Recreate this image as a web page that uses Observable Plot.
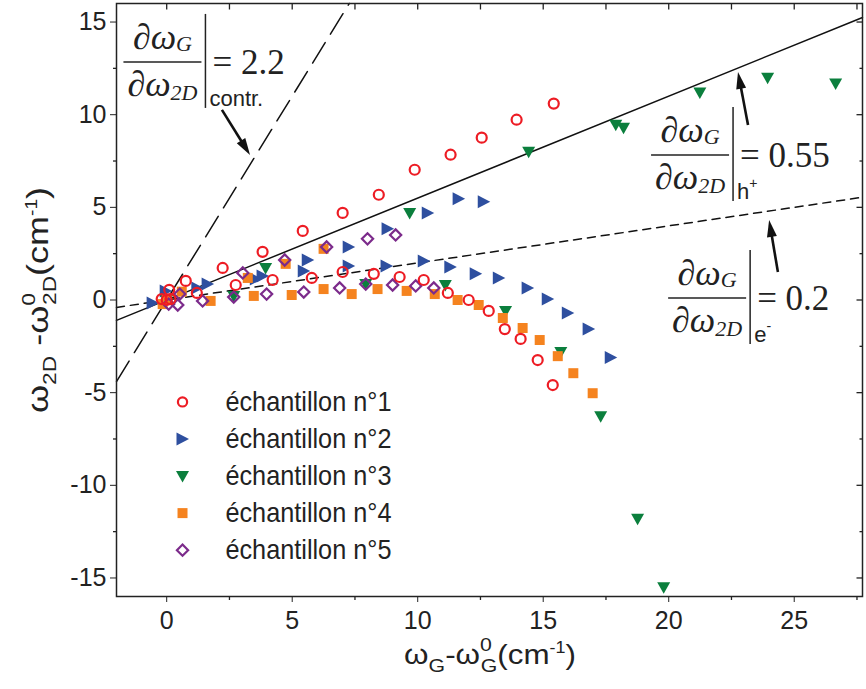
<!DOCTYPE html>
<html>
<head>
<meta charset="utf-8">
<script src="https://cdn.jsdelivr.net/npm/d3@7"></script>
<script src="https://cdn.jsdelivr.net/npm/@observablehq/plot@0.6"></script>
<style>
  html, body { margin: 0; padding: 0; background: white; }
</style>
</head>
<body>
<div id="chart"></div>
<script>
// ---------- data ----------
const serie1 = [ // échantillon n°1 (red open circles)
  [-0.2,0.05],[0,0],[0.15,0.05],[0.1,0.55],[0.76,1.03],[1.2,0.38],[2.23,1.73],[2.75,0.81],
  [3.82,2.6],[4.22,1.08],[5.42,3.73],[5.78,1.19],[7.01,4.7],[7.01,1.51],[8.45,5.68],[8.25,1.41],
  [9.28,1.24],[9.88,7.03],[10.24,1.08],[11.31,7.84],[11.2,0.38],[12.03,0.0],[12.55,8.76],
  [12.83,-0.59],[13.47,-1.57],[13.94,9.73],[14.1,-2.1],[14.78,-3.24],[15.38,-4.59],[15.42,10.6]
];
const serie2 = [ // échantillon n°2 (blue right triangles)
  [-0.56,-0.16],[-0.04,0.49],[1.22,0.65],[1.63,0.86],[3.55,1.13],[3.82,1.3],[5.62,2.16],
  [7.25,2.86],[8.8,3.84],[10.4,4.7],[11.63,5.46],[12.63,5.3],
  [5.46,1.57],[7.25,1.84],[8.76,1.84],[10.24,2.1],[11.3,1.78],[12.31,1.41],[13.23,1.19],
  [14.38,0.65],[15.18,0.05],[15.98,-0.7],[16.81,-1.57],[17.69,-3.1]
];
const serie3 = [ // échantillon n°3 (green down triangles)
  [0,0],[2.67,0.22],[3.94,1.73],[7.93,0.86],[9.68,4.7],[11.1,0.81],[13.5,-0.59],[14.42,8.0],
  [15.7,-2.81],[17.29,-6.27],[17.89,9.46],[18.2,9.3],[18.76,-11.8],[19.8,-15.5],
  [21.24,11.2],[23.94,12.0],[26.65,11.68]
];
const serie4 = [ // échantillon n°4 (orange squares)
  [-0.16,-0.22],[0,0],[0.6,0.45],[1.75,-0.05],[3.23,1.19],[3.47,0.22],[4.74,1.95],[4.98,0.27],
  [6.25,2.76],[6.25,0.59],[7.37,0.32],[8.4,0.59],[9.56,0.49],[10.68,0.32],[11.59,0.0],
  [12.43,-0.27],[13.39,-0.97],[14.18,-1.51],[14.86,-2.16],[15.58,-3.03],[16.2,-3.95],[16.97,-5.03]
];
const serie5 = [ // échantillon n°5 (purple open diamonds)
  [0.08,-0.22],[0.44,-0.27],[0.52,0.32],[1.43,-0.05],[2.67,0.16],[3.03,1.46],[3.98,0.32],
  [4.7,2.16],[5.46,0.43],[6.37,2.86],[6.89,0.65],[7.93,0.86],[8.0,3.3],[9.0,0.81],
  [9.12,3.51],[9.92,0.76],[10.64,0.65]
];

const legendLabels = ["échantillon n°1","échantillon n°2","échantillon n°3","échantillon n°4","échantillon n°5"];
const legendY = [-5.5,-7.5,-9.5,-11.5,-13.5];
const legendMarkX = 0.63;
const legendTextX = 2.34;

const guideSlopes = [2.2, 0.55, 0.2];
const guideDash = ["24,10", null, "8,6"];

const xDomain = [-2, 27.72];
const yDomain = [-16, 16];
const xTicks = [0,5,10,15,20,25];
const xMinor = [2.5,7.5,12.5,17.5,22.5,27.5];
const yTicks = [-15,-10,-5,0,5,10,15];
const yMinor = [-12.5,-7.5,-2.5,2.5,7.5,12.5];

// annotations (fraction-bar centre, in data units)
const formulas = [
  {x: -0.15, y: 12.82, value: "2.2",  label: "contr.", sup: ""},
  {x: 20.87, y: 7.8,   value: "0.55", label: "h",      sup: "+"},
  {x: 21.55, y: 0.08,  value: "0.2",  label: "e",      sup: "-"}
];
const arrows = [
  {x1: 2.22,  y1: 10.23, x2: 3.34,  y2: 7.8},
  {x1: 23.18, y1: 9.42,  x2: 22.78, y2: 12.28},
  {x1: 24.37, y1: 1.48,  x2: 24.02, y2: 4.29}
];

// ---------- styling ----------
const colors = ["#ed1c24", "#2e4f9f", "#0b7f3d", "#f5831f", "#7c2b8b"];
const INK = "#222";

const symTriRight = {draw(c){ c.moveTo(6.5,0); c.lineTo(-6,-6.5); c.lineTo(-6,6.5); c.closePath(); }};
const symTriDown  = {draw(c){ c.moveTo(-6.5,-5); c.lineTo(6.5,-5); c.lineTo(0,6.5); c.closePath(); }};
const symSquare   = {draw(c){ c.rect(-5,-5,10,10); }};
const symDiamond  = {draw(c){ c.moveTo(0,-5.6); c.lineTo(5.6,0); c.lineTo(0,5.6); c.lineTo(-5.6,0); c.closePath(); }};
const seg = (dx, dy) => ({draw(c){ c.moveTo(0,0); c.lineTo(dx,dy); }});

const seriesSpec = [
  {data: serie1, symbol: "circle",   r: 5, fill: "none",    stroke: colors[0], sw: 2.2},
  {data: serie2, symbol: symTriRight, r: 5, fill: colors[1], stroke: "none",   sw: 0},
  {data: serie3, symbol: symTriDown,  r: 5, fill: colors[2], stroke: "none",   sw: 0},
  {data: serie4, symbol: symSquare,   r: 5, fill: colors[3], stroke: "none",   sw: 0},
  {data: serie5, symbol: symDiamond,  r: 5, fill: "none",    stroke: colors[4], sw: 2.2}
];

function guideLine(s) {
  const x0 = Math.max(xDomain[0], yDomain[0] / s);
  const x1 = Math.min(xDomain[1], yDomain[1] / s);
  return [[x0, s * x0], [x1, s * x1]];
}

const marks = [];
guideSlopes.forEach((s, i) => {
  marks.push(Plot.line(guideLine(s), {x: d => d[0], y: d => d[1], stroke: "#111", strokeWidth: 1.5,
    strokeDasharray: guideDash[i] || undefined}));
});
[1,2,3,4,0].forEach(k => {
  const s = seriesSpec[k];
  marks.push(Plot.dot(s.data, {x: d => d[0], y: d => d[1], symbol: s.symbol, r: s.r,
    fill: s.fill, stroke: s.stroke, strokeWidth: s.sw}));
});
seriesSpec.forEach((s, i) => {
  marks.push(Plot.dot([legendY[i]], {x: () => legendMarkX, y: d => d, symbol: s.symbol, r: 4.6,
    fill: s.fill, stroke: s.stroke, strokeWidth: s.sw}));
});
marks.push(Plot.text(legendLabels, {x: () => legendTextX, y: (d, i) => legendY[i], text: d => d,
  textAnchor: "start", fontSize: 28, fill: INK}));
marks.push(Plot.frame({stroke: INK, strokeWidth: 1.5}));
marks.push(Plot.dot(xTicks.concat(xMinor), {x: d => d, y: () => yDomain[1], symbol: seg(0, 6), r: 3, fill: "none", stroke: INK, strokeWidth: 1.3}));
marks.push(Plot.dot(xMinor, {x: d => d, y: () => yDomain[0], symbol: seg(0, 3.5), r: 3, fill: "none", stroke: INK, strokeWidth: 1.3}));
marks.push(Plot.dot(yMinor, {x: () => xDomain[0], y: d => d, symbol: seg(-3.5, 0), r: 3, fill: "none", stroke: INK, strokeWidth: 1.3}));
marks.push(Plot.dot(yTicks, {x: () => xDomain[1], y: d => d, symbol: seg(-6, 0), r: 3, fill: "none", stroke: INK, strokeWidth: 1.3}));
marks.push(Plot.dot(yMinor, {x: () => xDomain[1], y: d => d, symbol: seg(-3, 0), r: 3, fill: "none", stroke: INK, strokeWidth: 1.3}));

const plot = Plot.plot({
  width: 866, height: 689,
  marginLeft: 116, marginRight: 4, marginTop: 3, marginBottom: 93,
  style: {fontFamily: "Liberation Sans, Arial, sans-serif", fontSize: "25px", color: INK, background: "white"},
  x: {domain: xDomain, ticks: xTicks, tickSize: 6, tickPadding: 9, tickFormat: d => String(d), label: null},
  y: {domain: yDomain, ticks: yTicks, tickSize: 6, tickPadding: 4, tickFormat: d => String(d), label: null},
  marks
});
document.getElementById("chart").appendChild(plot);

// ---------- annotations through the plot's own scales ----------
const sx = plot.scale("x"), sy = plot.scale("y");
const X = d3.scaleLinear(sx.domain, sx.range), Y = d3.scaleLinear(sy.domain, sy.range);
const svg = d3.select(plot);

// condense legend text like the reference
svg.selectAll("text").filter(function() { return this.textContent.startsWith("échantillon"); })
  .attr("textLength", 166).attr("lengthAdjust", "spacingAndGlyphs");

const g = svg.append("g").attr("fill", INK).attr("text-anchor", "start");

const SERIF = "Liberation Serif, Times New Roman, serif";
const SANS = "Liberation Sans, Arial, sans-serif";
formulas.forEach(f => {
  const cx = X(f.x), cy = Y(f.y);
  const num = g.append("text").attr("x", cx).attr("y", cy - 13).attr("text-anchor", "middle")
    .attr("font-family", SERIF).attr("font-style", "italic").attr("font-size", 36);
  num.append("tspan").text("∂ω");
  num.append("tspan").attr("font-size", 22).attr("dy", 2).text("G");
  g.append("line").attr("x1", cx - 39).attr("x2", cx + 39).attr("y1", cy).attr("y2", cy)
    .attr("stroke", INK).attr("stroke-width", 1.5);
  const den = g.append("text").attr("x", cx).attr("y", cy + 34).attr("text-anchor", "middle")
    .attr("font-family", SERIF).attr("font-style", "italic").attr("font-size", 36);
  den.append("tspan").text("∂ω");
  den.append("tspan").attr("font-size", 22).attr("dy", 4).text("2D");
  g.append("line").attr("x1", cx + 43).attr("x2", cx + 43).attr("y1", cy - 48).attr("y2", cy + 46)
    .attr("stroke", INK).attr("stroke-width", 1.5);
  g.append("text").attr("x", cx + 50).attr("y", cy + 12).attr("text-anchor", "start")
    .attr("font-family", SERIF).attr("font-size", 35).text("= " + f.value);
  const lab = g.append("text").attr("x", cx + 47).attr("y", cy + 44).attr("text-anchor", "start")
    .attr("font-family", SANS).attr("font-size", 22).text(f.label);
  if (f.sup) lab.append("tspan").attr("font-size", 14).attr("dy", -11).text(f.sup);
});

arrows.forEach(a => {
  const x1 = X(a.x1), y1 = Y(a.y1), x2 = X(a.x2), y2 = Y(a.y2);
  const dx = x2 - x1, dy = y2 - y1, L = Math.hypot(dx, dy), ux = dx / L, uy = dy / L;
  const hl = 17, hw = 5;
  const bx = x2 - ux * hl, by = y2 - uy * hl;
  g.append("line").attr("x1", x1).attr("y1", y1).attr("x2", bx + ux * 2).attr("y2", by + uy * 2)
    .attr("stroke", "#111").attr("stroke-width", 2.6);
  g.append("path").attr("d", `M${x2},${y2}L${bx - uy * hw},${by + ux * hw}L${bx + uy * hw},${by - ux * hw}Z`)
    .attr("fill", "#111");
});

// axis titles
function axisTitle(t, main, sub) {
  t.append("tspan").text("ω");
  t.append("tspan").attr("font-size", 19).attr("dy", 8).text(sub);
  t.append("tspan").attr("dy", -8).text(main === "y" ? " -ω" : "-ω");
  t.append("tspan").attr("font-size", 19).attr("dy", -13).text("0");
  t.append("tspan").attr("font-size", 19).attr("dx", -10).attr("dy", 21).text(sub);
  t.append("tspan").attr("dy", -8).text("(cm");
  t.append("tspan").attr("font-size", 16).attr("dy", -11).text("-1");
  t.append("tspan").attr("dy", 11).text(")");
}
const xt = g.append("text").attr("transform", "translate(490,664) scale(1.12,1)").attr("text-anchor", "middle")
  .attr("font-family", SANS).attr("font-size", 28);
axisTitle(xt, "x", "G");
const yt = g.append("text").attr("transform", "translate(48,300) rotate(-90) scale(1.2,1)").attr("text-anchor", "middle")
  .attr("font-family", SANS).attr("font-size", 30);
axisTitle(yt, "y", "2D");
</script>
</body>
</html>
